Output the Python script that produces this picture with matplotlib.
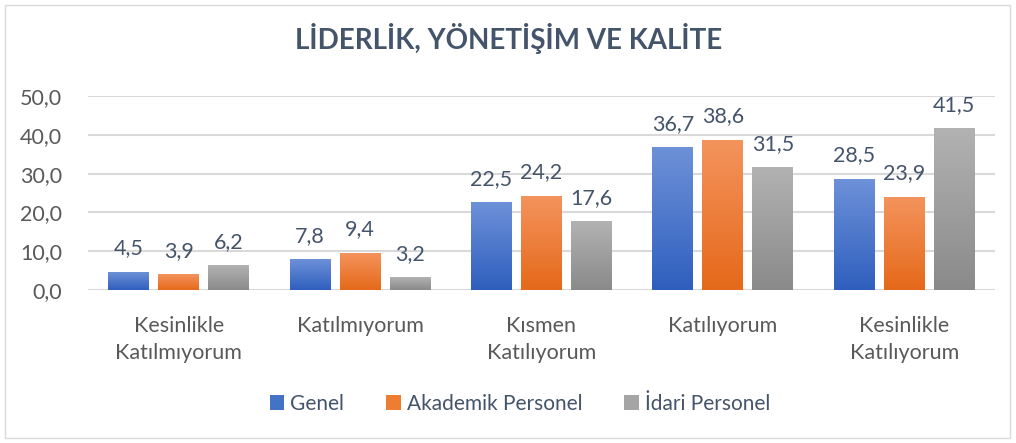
import matplotlib
matplotlib.use("Agg")
import matplotlib.pyplot as plt
import numpy as np
from matplotlib.colors import LinearSegmentedColormap
from matplotlib.patches import Patch, Rectangle

categories = ["Kesinlikle\nKatılmıyorum", "Katılmıyorum", "Kısmen\nKatılıyorum", "Katılıyorum", "Kesinlikle\nKatılıyorum"]
series_names = ["Genel", "Akademik Personel", "İdari Personel"]
genel = [4.5, 7.8, 22.5, 36.7, 28.5]
akademik = [3.9, 9.4, 24.2, 38.6, 23.9]
idari = [6.2, 3.2, 17.6, 31.5, 41.5]
yticks = [0, 10, 20, 30, 40, 50]

series = [genel, akademik, idari]
grads = [("#6D91D8", "#2F5FBE"), ("#F4935C", "#E5691A"), ("#B2B2B2", "#8A8A8A")]
mid = ["#4472C4", "#ED7D31", "#A5A5A5"]

plt.rcParams['font.family'] = ['Lato', 'DejaVu Sans']
txt = "#44546A"
tick_c = "#595959"

fig = plt.figure(figsize=(10.16, 4.43), dpi=100)
ax = fig.add_axes([88/1016, 1-290/443, (995-88)/1016, (290-96)/443])

x = np.arange(len(categories))
bw = 0.226
step = 0.276
for i, (vals, (ctop, cbot)) in enumerate(zip(series, grads)):
    cmap = LinearSegmentedColormap.from_list("g", [cbot, ctop])
    offs = (i - 1) * step
    bars = ax.bar(x + offs, vals, bw, color="none", edgecolor="none", zorder=3)
    for b, v in zip(bars, vals):
        x0 = b.get_x()
        grad = np.linspace(0, 1, 100).reshape(-1, 1)
        ax.imshow(grad, extent=[x0, x0 + bw, 0, v], origin="lower", cmap=cmap,
                  aspect="auto", zorder=3)
        ax.text(x0 + bw / 2, v + 3.6, f"{v:.1f}".replace(".", ","), ha="center",
                va="bottom", fontsize=15.5, color=txt)

ax.set_xlim(-0.5, len(categories) - 0.5)
ax.set_ylim(0, 50)
ax.set_yticks(yticks)
ax.set_yticklabels([f"{t:.1f}".replace(".", ",") for t in yticks], fontsize=15.5, color=tick_c)
ax.set_xticks(x)
ax.set_xticklabels(categories, fontsize=15.5, color=tick_c, linespacing=1.45)
ax.tick_params(axis="both", length=0)
ax.tick_params(axis="y", pad=18.5)
ax.tick_params(axis="x", pad=18.5)
ax.grid(axis="y", color="#D9D9D9", linewidth=1.5, zorder=0)
ax.set_axisbelow(True)
for s in ax.spines.values():
    s.set_visible(False)

fig.text(509/1016, 1-38/443, "LİDERLİK, YÖNETİŞİM VE KALİTE", ha="center", va="center",
         fontsize=20, fontweight="bold", color=txt)

handles = [Patch(facecolor=c, edgecolor="none") for c in mid]
fig.legend(handles, series_names, loc="center", bbox_to_anchor=(520/1016, 1-404/443),
           ncol=3, frameon=False, fontsize=15, labelcolor=txt, handlelength=0.7,
           handleheight=0.7, handletextpad=0.3, columnspacing=2.0)

fig.patches.append(Rectangle((5/1016, 5/443), 1005/1016, 433/443, transform=fig.transFigure,
                             fill=False, edgecolor="#D9D9D9", linewidth=1))

fig.savefig("out.png", dpi=100)
